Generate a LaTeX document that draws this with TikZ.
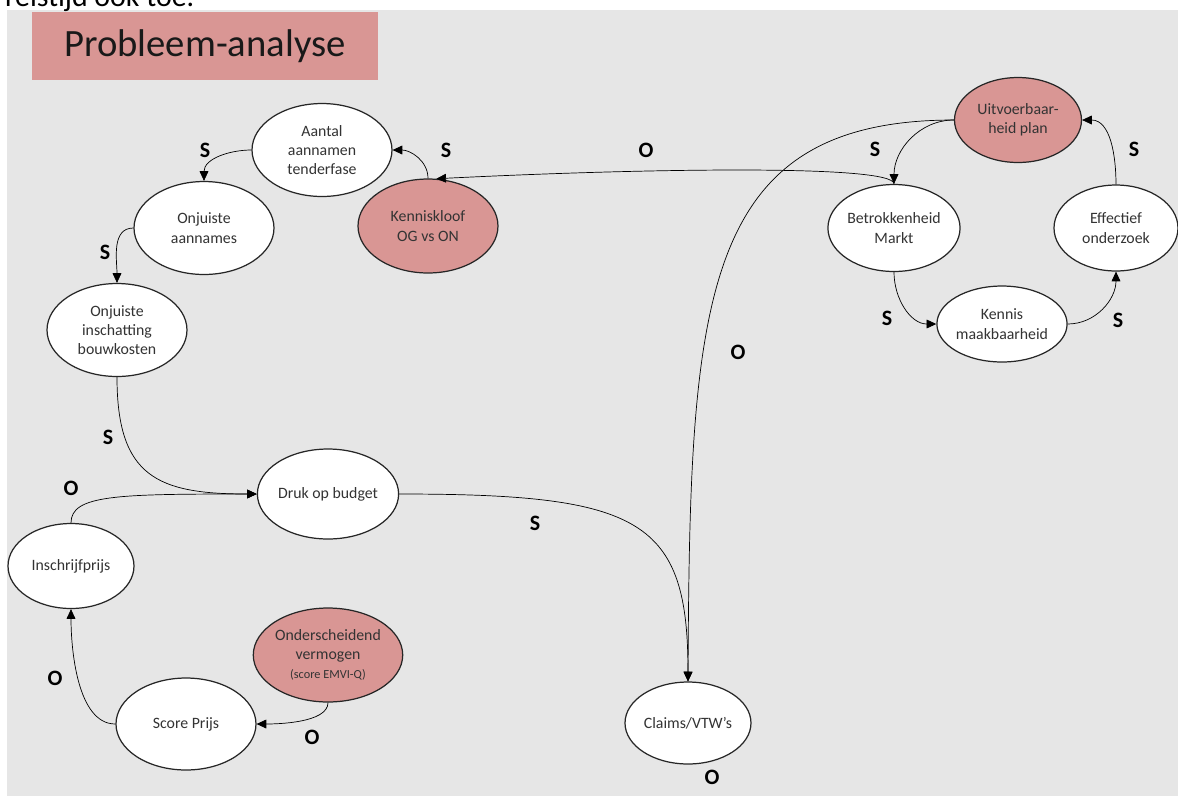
\documentclass[tikz,border=0pt]{standalone}
\usepackage{fontspec}
\setmainfont{Carlito}
\usetikzlibrary{shapes.geometric,arrows.meta}
\definecolor{analyse}{HTML}{D99694}
\definecolor{vlak}{HTML}{E6E6E6}

\begin{document}
\begin{tikzpicture}[x=0.02cm, y=-0.02cm, >={Triangle[length=5.5pt,width=5pt]},
    every node/.style={font=\fontsize{9}{11}\selectfont, text=black!80},
    oval/.style={ellipse, draw=black!85, line width=0.7pt, fill=white, inner sep=0pt,
                 minimum width=2.8cm, minimum height=1.86cm, align=center},
    kleinoval/.style={oval, minimum width=2.54cm, minimum height=1.7cm},
    kernoval/.style={fill=analyse},
    lbl/.style={font=\fontsize{12.5}{14}\selectfont\bfseries, text=black}]
    \useasboundingbox (0,0) rectangle (1178,796);
    \clip (0,0) rectangle (1178,796);
    \fill[vlak] (7,10) rectangle (1178,796);
    \node[anchor=base west, font=\fontsize{17}{20}\selectfont, text=black] (restregel) at (-1,6) {reistijd ook toe.};
    \node[fill=analyse, minimum width=6.92cm, minimum height=1.36cm, inner sep=0pt,
          font=\fontsize{22}{26}\selectfont, text=black!90] (titel) at (205,46) {Probleem-analyse};

    % linkerdeel
    \node[oval] (aantal) at (322,150) {Aantal\\aannamen\\tenderfase};
    \node[oval, kernoval, minimum height=1.88cm] (kloof) at (428,226) {Kenniskloof\\OG vs ON};
    \node[oval] (aannames) at (204,228) {Onjuiste\\aannames};
    \node[oval] (inschatting) at (117,330) {Onjuiste\\inschatting\\bouwkosten};
    \node[oval, minimum height=1.8cm] (druk) at (328,494) {Druk op budget};
    \node[oval, minimum width=2.52cm, minimum height=1.7cm] (inschrijf) at (71,566) {Inschrijfprijs};
    \node[oval, kernoval, minimum height=1.88cm] (onderscheid) at (328,655)
        {Onderscheidend\\vermogen\\{\fontsize{7}{9}\selectfont (score EMVI-Q)}};
    \node[oval, minimum height=1.84cm] (score) at (186,724) {Score Prijs};
    \node[oval, minimum width=2.52cm, minimum height=1.64cm] (claims) at (688,723) {Claims/VTW’s};

    % rechterdeel
    \node[kleinoval, kernoval] (uitvoer) at (1018,120) {Uitvoerbaar-\\heid plan};
    \node[kleinoval, minimum width=2.56cm, minimum height=1.74cm] (betrokken) at (894,228) {Betrokkenheid\\Markt};
    \node[kleinoval, minimum width=2.48cm, minimum height=1.72cm] (effectief) at (1116,228) {Effectief\\onderzoek};
    \node[kleinoval, minimum height=1.52cm] (kennis) at (1002,324) {Kennis\\maakbaarheid};

    % verbanden links
    \draw[->] (aantal.west) to[out=180, in=90] (aannames.north);
    \draw[->] (aannames.west) to[out=180, in=90] (inschatting.north);
    \draw[->] (kloof.north) to[out=90, in=0] (aantal.east);
    \draw[->] (inschatting.south) to[out=-90, in=180, looseness=1.4] (druk.west);
    \draw[->] (inschrijf.north) .. controls +(0,-28) and +(-140,0) .. (druk.west);
    \draw[->] (score.west) to[out=180, in=-90, looseness=0.8] (inschrijf.south);
    \draw[->] (onderscheid.south) to[out=-90, in=0, looseness=0.7] (score.east);
    \draw[->] (druk.east) .. controls +(242,0) and +(0,-162) .. (claims.north);

    % verbanden rechts
    \draw[->] (uitvoer.west) to[out=180, in=90] (betrokken.north);
    \draw[->] (uitvoer.west) .. controls +(-254,0) and +(2,-382) .. (claims.north);
    \draw[->] (betrokken.north) .. controls +(0,-20) and +(200,-10) .. (kloof.80);
    \draw[->] (betrokken.south) to[out=-90, in=180] (kennis.west);
    \draw[->] (kennis.east) to[out=0, in=-90] (effectief.south);
    \draw[->] (effectief.north) to[out=90, in=0] (uitvoer.east);

    % S/O labels
    \foreach \naam/\px/\py/\tekst in {sAantal/205/150/S, sKloof/446/150/S, sAannames/105/252/S,
        sBouw/108/437/S, oInschrijf/71/488/O, oScore/55/678/O, oOnder/312/737/O, sDruk/535/523/S,
        oClaims/712/777/O, oMarkt/646/150/O, oPlan/738/352/O, sPlan/875/149/S, sEffect/1134/149/S,
        sMarkt/887/318/S, sKennis/1118/320/S}
        \node[lbl] (\naam) at (\px,\py) {\tekst};
\end{tikzpicture}
\end{document}
